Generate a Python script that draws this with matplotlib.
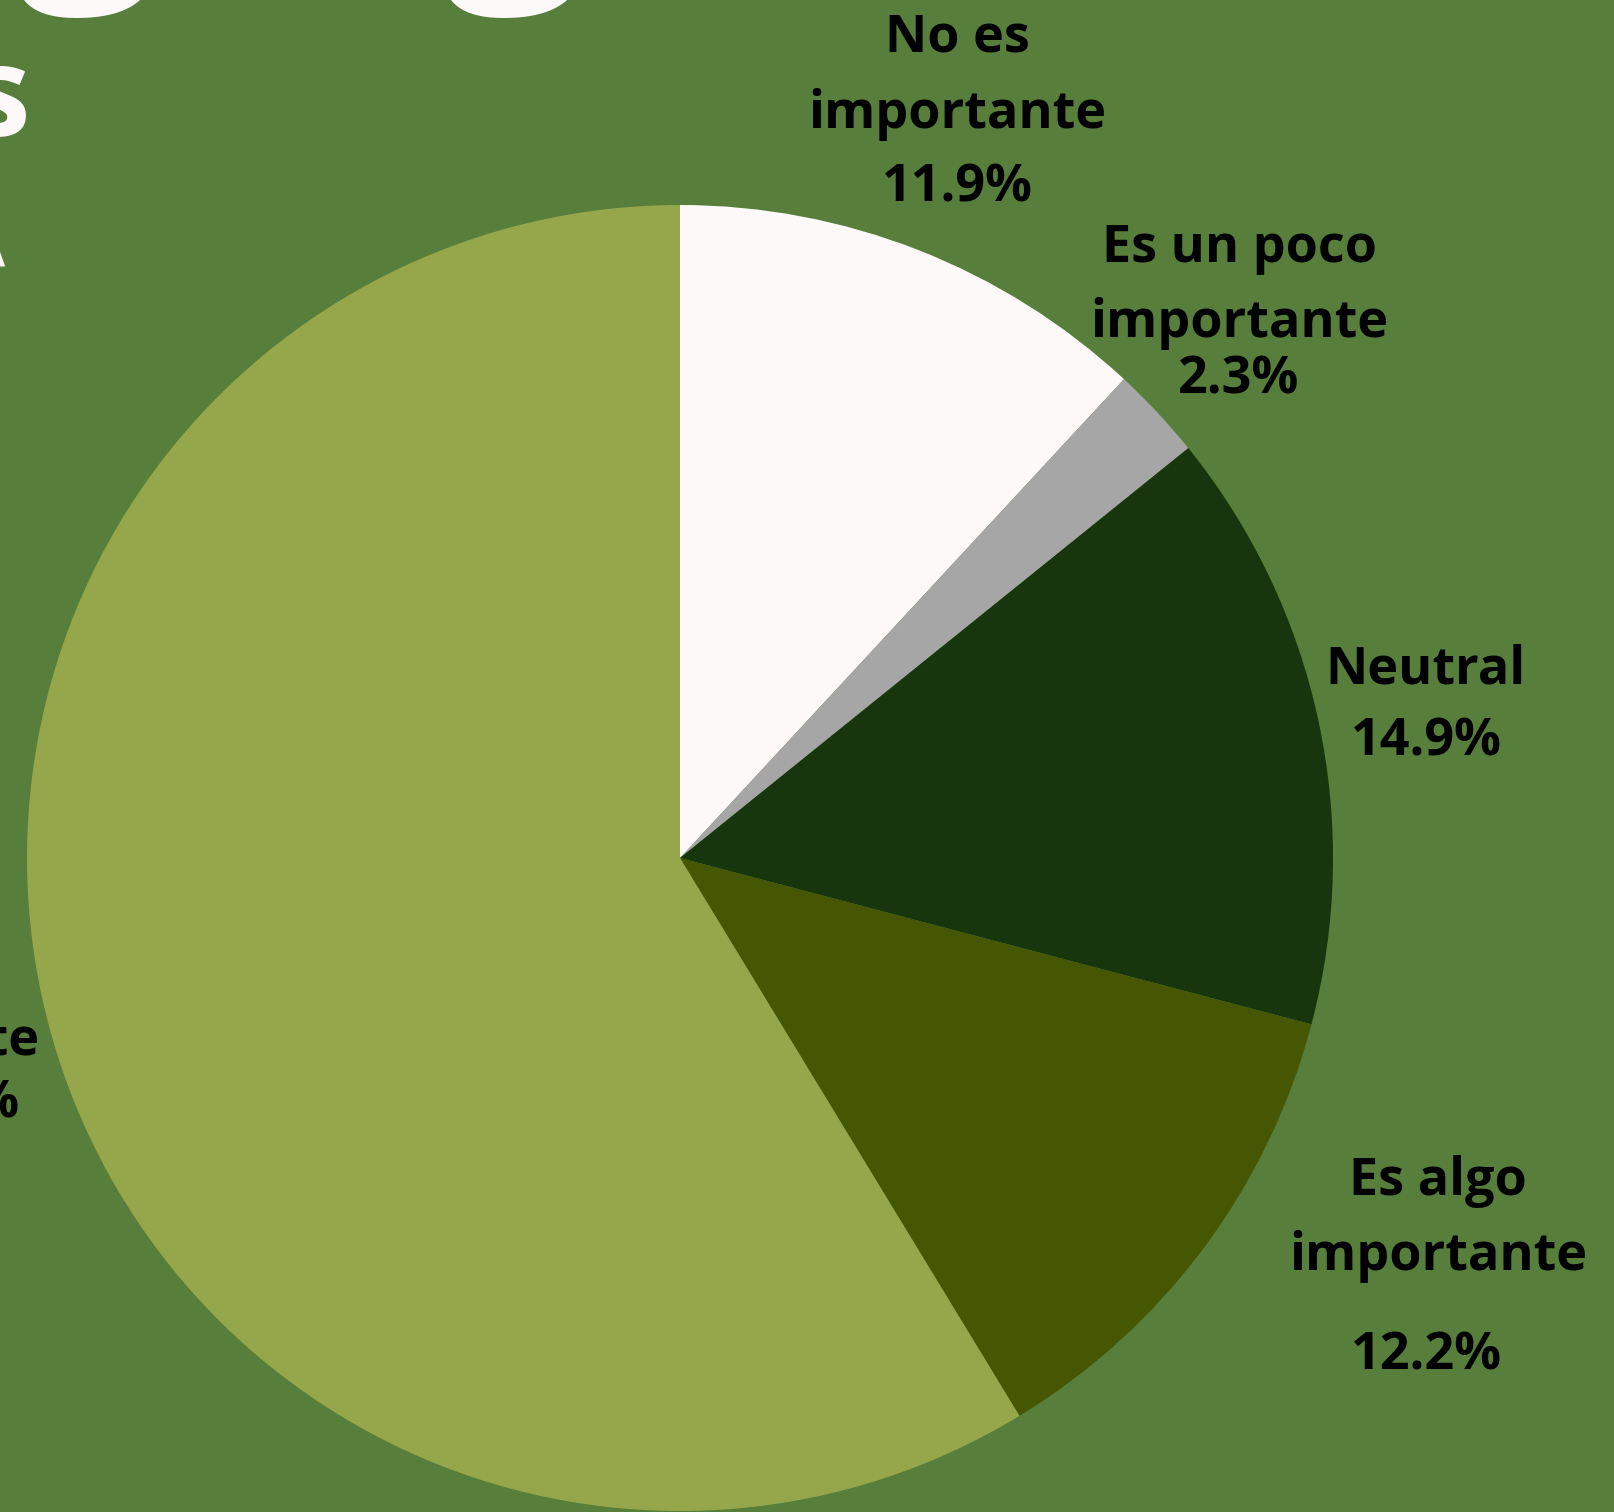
import matplotlib
matplotlib.use("Agg")
import matplotlib.pyplot as plt

# ---- data ----
categories = ["No es importante", "Es un poco importante", "Neutral",
              "Es algo importante", "Es muy importante"]
values = [11.9, 2.3, 14.9, 12.2, 58.7]
pct_labels = ["11.9%", "2.3%", "14.9%", "12.2%", "58.7%"]
colors = ["#FDF9F8", "#A6A6A6", "#18360E", "#465703", "#95A74A"]

BG = "#577E3B"
W, H = 1614, 1512
FONT = ["Open Sans", "DejaVu Sans"]

fig = plt.figure(figsize=(W / 100, H / 100), dpi=100, facecolor=BG)
ax = fig.add_axes([0, 0, 1, 1])
ax.set_facecolor(BG)

# pie in pixel-like data coordinates (y inverted)
ax.pie(values, colors=colors, startangle=-90, counterclock=True,
       center=(680, 858), radius=653,
       wedgeprops=dict(linewidth=0, antialiased=True))
ax.set_xlim(0, W)
ax.set_ylim(H, 0)
ax.set_aspect("equal")
ax.axis("off")

lab_kw = dict(ha="center", va="baseline", fontsize=37.5, fontweight="bold",
              color="black", family=FONT)

# No es importante
ax.text(957, 52, "No es", **lab_kw)
ax.text(957, 128, "importante", **lab_kw)
ax.text(957, 202, pct_labels[0], **lab_kw)

# Es un poco importante
ax.text(1239, 262, "Es un poco", **lab_kw)
ax.text(1239, 337, "importante", **lab_kw)
ax.text(1239, 393, pct_labels[1], **lab_kw)

# Neutral
ax.text(1426, 683, "Neutral", **lab_kw)
ax.text(1426, 755, pct_labels[2], **lab_kw)

# Es algo importante
ax.text(1438, 1195, "Es algo", **lab_kw)
ax.text(1438, 1270, "importante", **lab_kw)
ax.text(1426, 1369, pct_labels[3], **lab_kw)

# Es muy importante (mostly cut off at left)
ax.text(-108, 992, "Es muy", **lab_kw)
ax.text(39, 1055, "importante", **dict(lab_kw, ha="right"))
ax.text(20, 1118, pct_labels[4], **dict(lab_kw, ha="right"))

# Title fragments (cut off by the canvas edges)
title_kw = dict(va="baseline", fontweight="bold", color="#FDF9F8", family=FONT)
ax.text(16, -42, "g", ha="left", fontsize=180, **title_kw)
ax.text(443, -42, "g", ha="left", fontsize=180, **title_kw)
ax.text(31, 136, "Datos", ha="right", fontsize=91, **title_kw)
ax.text(5, 266, "A", ha="right", fontsize=91, **title_kw)

fig.savefig("out.png", dpi=100, facecolor=BG)
